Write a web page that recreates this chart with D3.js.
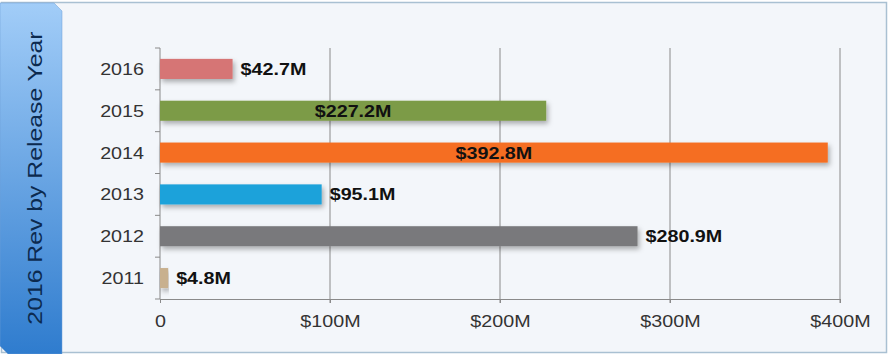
<!DOCTYPE html>
<html>
<head>
<meta charset="utf-8">
<script src="https://cdn.jsdelivr.net/npm/d3@7"></script>
<style>
  body { margin: 0; background: #ffffff; }
  text { font-family: "Liberation Sans", Arial, Helvetica, sans-serif; }
</style>
</head>
<body>
<div id="chart"></div>
<script>
// chart values
const years = ["2016", "2015", "2014", "2013", "2012", "2011"];
const revenue = [42.7, 227.2, 392.8, 95.1, 280.9, 4.8];
const barColors = ["#d67474", "#7c9b47", "#f56e20", "#1ea2da", "#79797b", "#c8b08e"];
const insideLabel = ["2015", "2014"];
const tickValues = [0, 100, 200, 300, 400];
const tickLabels = ["0", "$100M", "$200M", "$300M", "$400M"];
const title = "2016 Rev by Release Year";

const W = 888, H = 354;
const margin = { top: 48, left: 160, right: 48, bottom: 55 };
const sx = 1.16; // text in the source is drawn a bit wide

const svg = d3.select("#chart").append("svg")
    .attr("width", W)
    .attr("height", H);

const defs = svg.append("defs");
const grad = defs.append("linearGradient")
    .attr("id", "tabGrad")
    .attr("x1", 0).attr("y1", 0).attr("x2", 0).attr("y2", 1);
grad.append("stop").attr("offset", "0%").attr("stop-color", "#a2cdf8");
grad.append("stop").attr("offset", "100%").attr("stop-color", "#2f7cce");

const shadow = defs.append("filter").attr("id", "barShadow")
    .attr("x", "-5%").attr("y", "-30%").attr("width", "115%").attr("height", "180%");
shadow.append("feDropShadow")
    .attr("dx", 2).attr("dy", 3).attr("stdDeviation", 2.5)
    .attr("flood-color", "#000").attr("flood-opacity", 0.3);

// panel background
svg.append("rect")
    .attr("x", 1.5).attr("y", 2.5)
    .attr("width", W - 3).attr("height", H - 4)
    .attr("fill", "#f3f6fa")
    .attr("stroke", "#a9c0d2")
    .attr("stroke-width", 1.5);

// blue side tab with clipped corners
svg.append("path")
    .attr("d", "M0,3 L54,3 L62,11 L62,354 L8,354 L0,346 Z")
    .attr("fill", "url(#tabGrad)")
    .attr("stroke", "#6f9fd4")
    .attr("stroke-width", 0.5);

svg.append("text")
    .attr("transform", `translate(42,178) rotate(-90) scale(${sx + 0.02},1)`)
    .attr("text-anchor", "middle")
    .attr("font-size", 21)
    .attr("fill", "#0c2a4f")
    .text(title);

const width = W - margin.left - margin.right;
const height = H - margin.top - margin.bottom;

const g = svg.append("g")
    .attr("transform", `translate(${margin.left},${margin.top})`);

const x = d3.scaleLinear().domain([0, 400]).range([0, width]);
const y = d3.scaleBand().domain(years).range([0, height]).paddingInner(0.52).paddingOuter(0.26);

const data = years.map((yr, i) => ({ year: yr, value: revenue[i], color: barColors[i] }));

// vertical grid lines
g.append("g").selectAll("line")
    .data(tickValues.slice(1))
    .enter().append("line")
    .attr("x1", d => x(d)).attr("x2", d => x(d))
    .attr("y1", 0).attr("y2", height + 4)
    .attr("stroke", "#8a8a8a")
    .attr("stroke-width", 1);

// x axis
const xAxis = g.append("g")
    .attr("transform", `translate(0,${height})`)
    .call(d3.axisBottom(x).tickValues(tickValues).tickSize(4).tickPadding(12)
        .tickFormat((d, i) => tickLabels[i]));
xAxis.select(".domain").attr("stroke", "#8a8a8a");
xAxis.selectAll(".tick line").attr("stroke", "#8a8a8a");
xAxis.selectAll("text")
    .attr("font-size", 17).attr("fill", "#333")
    .attr("font-family", "'Liberation Sans', Arial, sans-serif")
    .attr("transform", `scale(${sx},1)`);

// y axis: ticks at band boundaries
const step = y.step();
const yAxis = g.append("g");
yAxis.append("line")
    .attr("x1", 0).attr("x2", 0).attr("y1", 0).attr("y2", height)
    .attr("stroke", "#8a8a8a");
yAxis.selectAll(".ytick")
    .data(d3.range(years.length + 1))
    .enter().append("line")
    .attr("x1", -5).attr("x2", 0)
    .attr("y1", i => i * step).attr("y2", i => i * step)
    .attr("stroke", "#8a8a8a");
yAxis.selectAll(".ylabel")
    .data(years)
    .enter().append("text")
    .attr("transform", d => `translate(-16,${y(d) + y.bandwidth() / 2}) scale(${sx},1)`)
    .attr("dy", "0.35em")
    .attr("text-anchor", "end")
    .attr("font-size", 17)
    .attr("fill", "#333")
    .text(d => d);

// bars
g.selectAll(".bar")
    .data(data)
    .enter().append("rect")
    .attr("class", "bar")
    .attr("x", 0)
    .attr("y", d => y(d.year))
    .attr("width", d => x(d.value))
    .attr("height", y.bandwidth())
    .attr("fill", d => d.color)
    .attr("filter", "url(#barShadow)");

// value labels: centred in the long bars, after the others
const inside = d => insideLabel.includes(d.year);
g.selectAll(".val")
    .data(data)
    .enter().append("text")
    .attr("class", "val")
    .attr("transform", d => {
        const lx = inside(d) ? x(d.value) / 2 : x(d.value) + 8;
        return `translate(${lx},${y(d.year) + y.bandwidth() / 2}) scale(${sx},1)`;
    })
    .attr("dy", "0.35em")
    .attr("text-anchor", d => inside(d) ? "middle" : "start")
    .attr("font-size", 17)
    .attr("font-weight", "bold")
    .attr("fill", "#111")
    .text(d => "$" + d.value.toFixed(1) + "M");
</script>
</body>
</html>
